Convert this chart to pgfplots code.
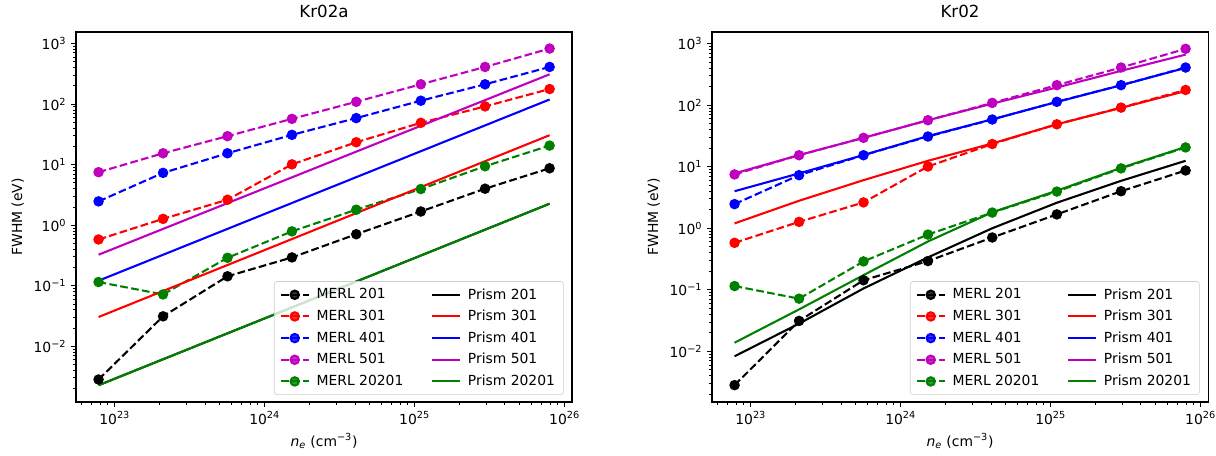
\documentclass[border=0pt]{standalone}
\usepackage{fontspec}
\setmainfont{DejaVu Sans}
\usepackage{pgfplots}
\usepackage{pgfplotstable}
\pgfplotsset{compat=1.18}

\definecolor{mR}{rgb}{1,0,0}
\definecolor{mB}{rgb}{0,0,1}
\definecolor{mM}{rgb}{0.75,0,0.75}
\definecolor{mG}{rgb}{0,0.5,0}

% MERL results (same in both panels)
\pgfplotstableread{
ne       m201     m301   m401   m501   m20201
7.80e22  0.00282  0.58   2.47   7.5    0.115
2.10e23  0.0312   1.27   7.3    15.4   0.0717
5.65e23  0.143    2.63   15.4   29.5   0.289
1.52e24  0.293    10.1   31     57     0.79
4.08e24  0.708    23.4   58.6   109    1.80
1.10e25  1.68     49     113.6  212    3.95
2.95e25  4.0      91.5   212    410    9.4
7.95e25  8.7      177    410    826    20.6
}\merl

% Prism, Kr02a (straight lines in log-log)
\pgfplotstableread{
ne       p201     p301    p401   p501   p20201
7.80e22  0.00227  0.0304  0.121  0.325  0.00227
7.95e25  2.26     30.6    119    310    2.26
}\prisma

% Prism, Kr02
\pgfplotstableread{
ne       p201     p301   p401   p501   p20201
7.80e22  0.0083   1.2    4.0    7.8    0.0138
2.10e23  0.0282   2.8    7.8    15.5   0.048
5.65e23  0.105    6.05   15.5   29.5   0.173
1.52e24  0.336    12.5   31.5   57     0.61
4.08e24  1.0      23.9   59     106    1.82
1.10e25  2.6      49     113    194    4.08
2.95e25  5.9      90.5   211    362    9.6
7.95e25  12.5     170    405    665    21
}\prismb

\newcommand{\merlopt}{line width=1.5pt, dash pattern=on 5.55pt off 2.4pt, mark=*, mark size=3pt, mark options={solid}}
\newcommand{\prismopt}{line width=1.5pt, solid}

\pgfplotsset{
  every axis/.append style={
    xmode=log, ymode=log,
    scale only axis, width=357.12pt, height=266.4pt,
    anchor=south west,
    xmin=5.52e22, xmax=1.122e26,
    ymax=1550,
    tick align=outside, tick pos=left,
    major tick length=3.5pt, minor tick length=2pt,
    every major tick/.append style={line width=0.8pt, black},
    every minor tick/.append style={line width=0.6pt, black},
    axis line style={line width=0.8pt},
    xtick={1e23,1e24,1e25,1e26},
    xticklabels={10\textsuperscript{23},10\textsuperscript{24},10\textsuperscript{25},10\textsuperscript{26}},
    minor xtick={6e22,7e22,8e22,9e22,2e23,3e23,4e23,5e23,6e23,7e23,8e23,9e23,
      2e24,3e24,4e24,5e24,6e24,7e24,8e24,9e24,2e25,3e25,4e25,5e25,6e25,7e25,8e25,9e25},
    ytick={1e-2,1e-1,1,10,100,1000},
    yticklabels={10\textsuperscript{−2},10\textsuperscript{−1},10\textsuperscript{0},10\textsuperscript{1},10\textsuperscript{2},10\textsuperscript{3}},
    minor ytick={2e-3,3e-3,4e-3,5e-3,6e-3,7e-3,8e-3,9e-3,
      2e-2,3e-2,4e-2,5e-2,6e-2,7e-2,8e-2,9e-2,0.2,0.3,0.4,0.5,0.6,0.7,0.8,0.9,
      2,3,4,5,6,7,8,9,20,30,40,50,60,70,80,90,200,300,400,500,600,700,800,900},
    tick label style={font=\fontsize{10}{12}\selectfont},
    label style={font=\fontsize{10}{12}\selectfont},
    title style={font=\fontsize{12}{14}\selectfont, yshift=1pt},
    xlabel={{\itshape n}\textsubscript{\itshape e} (cm\textsuperscript{−3})},
    ylabel={FWHM (eV)},
    legend columns=2,
    legend cell align=left,
    legend style={at={(0.983,0.019)}, anchor=south east,
      font=\fontsize{10}{12}\selectfont,
      draw=black!20, rounded corners=2pt, fill=white, fill opacity=0.8, text opacity=1,
      inner xsep=4pt, inner ysep=3pt, row sep=2.5pt,
      /tikz/every odd column/.append style={column sep=3pt},
      /tikz/every even column/.append style={column sep=18pt}},
  },
  legend image code/.code={%
    \draw[mark repeat=2,mark phase=2,#1] plot coordinates {(0pt,0pt) (10pt,0pt) (20pt,0pt)};},
}

\newcommand{\legendall}{%
  \expandafter\addlegendimage\expandafter{\merlopt, black}\addlegendentry{MERL 201}
  \expandafter\addlegendimage\expandafter{\prismopt, black}\addlegendentry{Prism 201}
  \expandafter\addlegendimage\expandafter{\merlopt, mR}\addlegendentry{MERL 301}
  \expandafter\addlegendimage\expandafter{\prismopt, mR}\addlegendentry{Prism 301}
  \expandafter\addlegendimage\expandafter{\merlopt, mB}\addlegendentry{MERL 401}
  \expandafter\addlegendimage\expandafter{\prismopt, mB}\addlegendentry{Prism 401}
  \expandafter\addlegendimage\expandafter{\merlopt, mM}\addlegendentry{MERL 501}
  \expandafter\addlegendimage\expandafter{\prismopt, mM}\addlegendentry{Prism 501}
  \expandafter\addlegendimage\expandafter{\merlopt, mG}\addlegendentry{MERL 20201}
  \expandafter\addlegendimage\expandafter{\prismopt, mG}\addlegendentry{Prism 20201}
}

\newcommand{\merlplots}{%
  \addplot[line width=1.5pt, dash pattern=on 5.55pt off 2.4pt, mark=*, mark size=3pt, mark options={solid}, black, forget plot] table[x=ne, y=m201] {\merl};
  \addplot[line width=1.5pt, dash pattern=on 5.55pt off 2.4pt, mark=*, mark size=3pt, mark options={solid}, mR, forget plot] table[x=ne, y=m301] {\merl};
  \addplot[line width=1.5pt, dash pattern=on 5.55pt off 2.4pt, mark=*, mark size=3pt, mark options={solid}, mB, forget plot] table[x=ne, y=m401] {\merl};
  \addplot[line width=1.5pt, dash pattern=on 5.55pt off 2.4pt, mark=*, mark size=3pt, mark options={solid}, mM, forget plot] table[x=ne, y=m501] {\merl};
  \addplot[line width=1.5pt, dash pattern=on 5.55pt off 2.4pt, mark=*, mark size=3pt, mark options={solid}, mG, forget plot] table[x=ne, y=m20201] {\merl};
}

\newcommand{\prismplots}[1]{%
  \addplot[line width=1.5pt, no marks, black, forget plot] table[x=ne, y=p201] {#1};
  \addplot[line width=1.5pt, no marks, mR, forget plot] table[x=ne, y=p301] {#1};
  \addplot[line width=1.5pt, no marks, mB, forget plot] table[x=ne, y=p401] {#1};
  \addplot[line width=1.5pt, no marks, mM, forget plot] table[x=ne, y=p501] {#1};
  \addplot[line width=1.5pt, no marks, mG, forget plot] table[x=ne, y=p20201] {#1};
}

\begin{document}
\begin{tikzpicture}
\useasboundingbox (0,0) rectangle (875.52pt,328.32pt);

\begin{axis}[at={(54.72pt,38.88pt)}, ymin=0.0012, title={Kr02a}]
  \merlplots
  \prismplots{\prisma}
  \legendall
\end{axis}

\begin{axis}[at={(512.64pt,38.88pt)}, ymin=0.0015, title={Kr02}]
  \merlplots
  \prismplots{\prismb}
  \legendall
\end{axis}
\end{tikzpicture}
\end{document}
